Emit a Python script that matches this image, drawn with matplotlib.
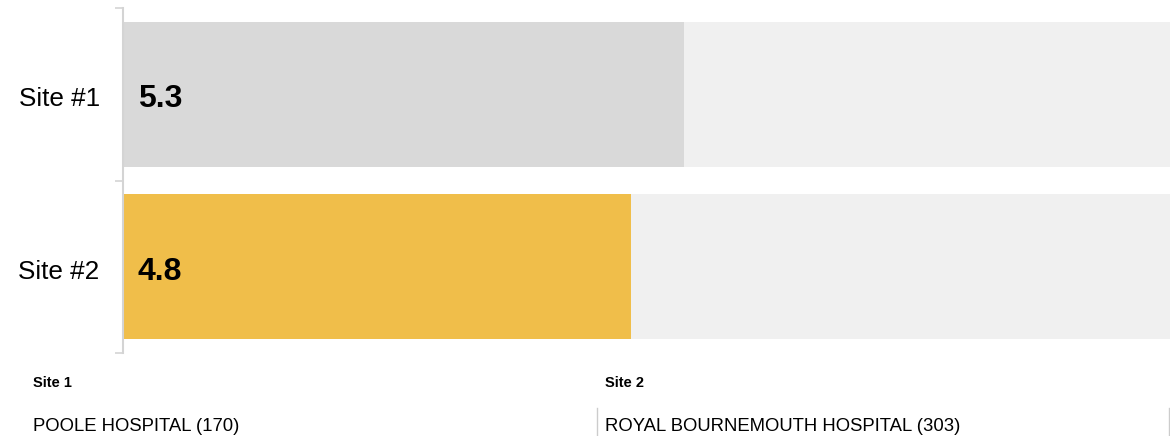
import matplotlib.pyplot as plt

plt.rcParams['font.family'] = ['Liberation Sans', 'DejaVu Sans']

sites = ['Site #1', 'Site #2']
values = [5.3, 4.8]
max_value = 9.9
bar_colors = ['#d9d9d9', '#f0be4a']
footer_heads = ['Site 1', 'Site 2']
footer_names = ['POOLE HOSPITAL (170)', 'ROYAL BOURNEMOUTH HOSPITAL (303)']

fig = plt.figure(figsize=(11.7, 4.36), dpi=100)
ax = fig.add_axes([123 / 1170, 1 - 353 / 436, 1 - 123 / 1170, 345 / 436])

pos = list(range(len(sites)))
ax.barh(pos, [max_value] * len(sites), height=0.84, color='#f0f0f0', zorder=1)
ax.barh(pos, values, height=0.84, color=bar_colors, zorder=2)

for p, v in zip(pos, values):
    ax.text(0.14, p + 0.03, f'{v:.1f}', va='center', ha='left', fontsize=23,
            fontweight='bold', color='#000000', zorder=3)
    ax.text(-0.22, p + 0.03, sites[p], va='center', ha='right', fontsize=18.8,
            color='#000000')

ax.set_xlim(0, max_value)
ax.set_ylim(len(sites) - 0.5, -0.5)
ax.set_yticks([-0.5, 0.5, 1.5])
ax.set_yticklabels([])
ax.tick_params(axis='y', length=6, width=1.2, color='#d4d4d4')
ax.set_xticks([])
for s in ['top', 'right', 'bottom']:
    ax.spines[s].set_visible(False)
ax.spines['left'].set_color('#d4d4d4')
ax.spines['left'].set_linewidth(1.5)

# footer with site names
xs = [33 / 1170, 605 / 1170]
for x, head, name in zip(xs, footer_heads, footer_names):
    fig.text(x, 1 - 383 / 436, head, fontsize=10.5, fontweight='bold',
             color='#000000', va='center')
    fig.text(x, 1 - 426 / 436, name, fontsize=13.3, color='#000000', va='center')
for lx in [597 / 1170, 1169 / 1170]:
    fig.add_artist(plt.Line2D([lx, lx], [0, 1 - 408 / 436], color='#cccccc', lw=1))

fig.savefig('out.png', dpi=100)
